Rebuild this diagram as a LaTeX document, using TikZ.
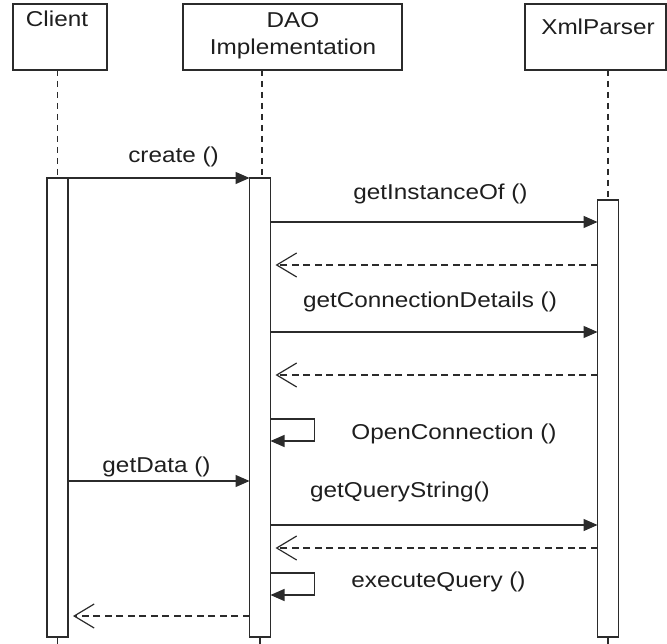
\documentclass[tikz,border=0pt]{standalone}
\usepackage{fontspec}
\setmainfont{Liberation Sans}[FakeStretch=1.13]
\usetikzlibrary{arrows.meta}
\definecolor{ink}{HTML}{2B2B2B}
\definecolor{txt}{HTML}{1E1E1E}
\begin{document}
\begin{tikzpicture}[x=1pt,y=-1pt,
  every node/.style={inner sep=0pt,outer sep=0pt},
  headbox/.style={draw=ink,line width=1.4pt,fill=white,minimum height=66pt},
  actbar/.style={draw=ink,line width=1.4pt,fill=white,minimum width=21pt},
  lbl/.style={anchor=base,text=txt,font=\fontsize{21.5}{26}\selectfont},
  lifeline/.style={draw=ink,line width=1.2pt,dash pattern=on 6pt off 5pt},
  tick/.style={draw=ink,line width=1.2pt},
  call/.style={draw=ink,line width=1.4pt,-{Triangle[length=14pt,width=12pt]}},
  ret/.style={draw=ink,line width=1.2pt,dash pattern=on 7pt off 4.5pt,
    -{Straight Barb[length=20pt,width=24pt,line width=1.2pt]},shorten >=5pt}]
\useasboundingbox (0,0) rectangle (667,644);
\fill[white] (0,0) rectangle (667,644);

% participants
\node[headbox,minimum width=94pt]  (client) at (60,37) {};
\node[headbox,minimum width=219pt] (dao)    at (292.5,37) {};
\node[headbox,minimum width=141pt] (xml)    at (595.5,37) {};
\node[lbl] (clientname) at (57,27) {Client};
\node[lbl] (daoname1)   at (293,28) {DAO};
\node[lbl] (daoname2)   at (293,55) {Implementation};
\node[lbl] (xmlname)    at (598,35) {XmlParser};

% activation bars
\node[actbar,minimum height=459pt] (cbar) at (57.5,407.5) {};
\node[actbar,minimum height=459pt] (dbar) at (260,407.5) {};
\node[actbar,minimum height=437pt] (xbar) at (608,418.5) {};

% lifelines
\coordinate (cl) at (57.5,0);
\coordinate (dl) at (262,0);
\coordinate (xl) at (608,0);
\coordinate (bottom) at (0,644);
\draw[lifeline] (cl |- client.south) -- (cl |- cbar.north);
\draw[lifeline] (dl |- dao.south) -- (dl |- dbar.north);
\draw[lifeline] (xl |- xml.south) -- (xl |- xbar.north);
\draw[tick] (cbar.south) -- (cbar.south |- bottom);
\draw[tick] (dbar.south) -- (dbar.south |- bottom);
\draw[tick] (xbar.south) -- (xbar.south |- bottom);

% message levels
\coordinate (y2) at (0,222);
\coordinate (y3) at (0,265);
\coordinate (y4) at (0,332);
\coordinate (y5) at (0,375);
\coordinate (y6) at (0,419);
\coordinate (y6b) at (0,441);
\coordinate (y7) at (0,481);
\coordinate (y8) at (0,525);
\coordinate (y9) at (0,548);
\coordinate (y10) at (0,573);
\coordinate (y10b) at (0,595);
\coordinate (y11) at (0,616);

% messages
\draw[call] (cl |- cbar.north) -- (dbar.north west);
\node[lbl] (m1) at (173.5,163) {create ()};

\draw[call] (dbar.east |- y2) -- (xbar.west |- y2);
\node[lbl] (m2) at (440.5,200) {getInstanceOf ()};
\draw[ret] (xbar.west |- y3) -- (dbar.east |- y3);

\draw[call] (dbar.east |- y4) -- (xbar.west |- y4);
\node[lbl] (m3) at (430,308) {getConnectionDetails ()};
\draw[ret] (xbar.west |- y5) -- (dbar.east |- y5);

\draw[call] (dbar.east |- y6) -- ++(44,0) -- ++(0,22) -- (dbar.east |- y6b);
\node[lbl] (m4) at (454,439) {OpenConnection ()};

\draw[call] (cbar.east |- y7) -- (dbar.west |- y7);
\node[lbl] (m5) at (156.5,472) {getData ()};

\draw[call] (dbar.east |- y8) -- (xbar.west |- y8);
\node[lbl] (m6) at (400,497) {getQueryString()};
\draw[ret] (xbar.west |- y9) -- (dbar.east |- y9);

\draw[call] (dbar.east |- y10) -- ++(44,0) -- ++(0,22) -- (dbar.east |- y10b);
\node[lbl] (m7) at (438.5,587) {executeQuery ()};

\draw[ret] (dbar.west |- y11) -- (cbar.east |- y11);
\end{tikzpicture}
\end{document}
